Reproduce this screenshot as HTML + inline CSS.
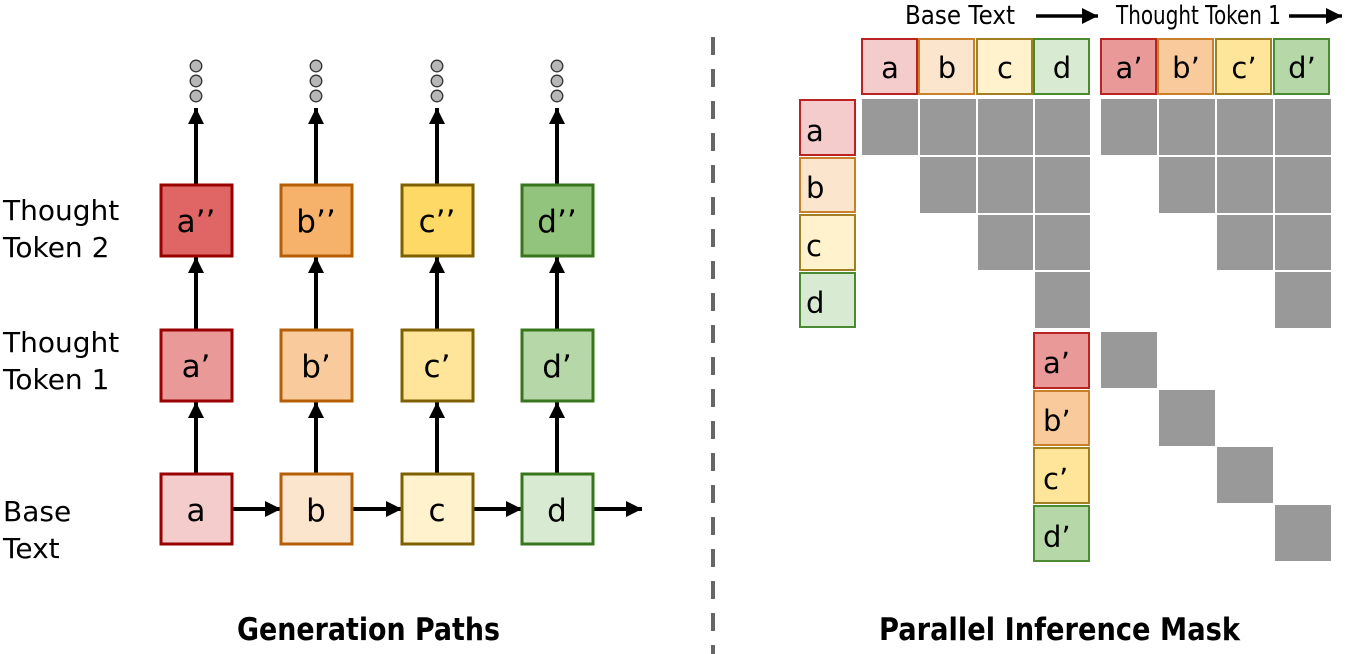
<!DOCTYPE html>
<html><head><meta charset="utf-8"><style>
html,body{margin:0;padding:0;background:#fff;width:1362px;height:654px;overflow:hidden}
svg text{font-family:"DejaVu Sans","Liberation Sans",sans-serif;fill:#000}
</style></head><body>
<svg width="1362" height="654" viewBox="0 0 1362 654" xmlns="http://www.w3.org/2000/svg">
<defs>
<marker id="ah" viewBox="0 0 10 10" refX="10" refY="5" markerWidth="18" markerHeight="16" markerUnits="userSpaceOnUse" orient="auto"><path d="M0,0L10,5L0,10z" fill="#000"/></marker>
</defs>
<line x1="713" y1="37" x2="713" y2="654" stroke="#666" stroke-width="4" stroke-dasharray="18 14"/>

<g font-size="28">
<text x="3" y="220">Thought</text><text x="3" y="257">Token 2</text>
<text x="3" y="352">Thought</text><text x="3" y="389">Token 1</text>
<text x="3" y="521">Base</text><text x="3" y="558">Text</text>
</g>

<g stroke="#000" stroke-width="4" fill="none">
<line x1="196" y1="474" x2="196" y2="402" marker-end="url(#ah)"/>
<line x1="316" y1="474" x2="316" y2="402" marker-end="url(#ah)"/>
<line x1="437" y1="474" x2="437" y2="402" marker-end="url(#ah)"/>
<line x1="557" y1="474" x2="557" y2="402" marker-end="url(#ah)"/>
<line x1="196" y1="329" x2="196" y2="257" marker-end="url(#ah)"/>
<line x1="316" y1="329" x2="316" y2="257" marker-end="url(#ah)"/>
<line x1="437" y1="329" x2="437" y2="257" marker-end="url(#ah)"/>
<line x1="557" y1="329" x2="557" y2="257" marker-end="url(#ah)"/>
<line x1="196" y1="184" x2="196" y2="108" marker-end="url(#ah)"/>
<line x1="316" y1="184" x2="316" y2="108" marker-end="url(#ah)"/>
<line x1="437" y1="184" x2="437" y2="108" marker-end="url(#ah)"/>
<line x1="557" y1="184" x2="557" y2="108" marker-end="url(#ah)"/>
<line x1="232" y1="509" x2="281" y2="509" marker-end="url(#ah)"/>
<line x1="352" y1="509" x2="402" y2="509" marker-end="url(#ah)"/>
<line x1="473" y1="509" x2="522" y2="509" marker-end="url(#ah)"/>
<line x1="593" y1="509" x2="642" y2="509" marker-end="url(#ah)"/>
</g>
<g fill="#b7b7b7" stroke="#333" stroke-width="1.3">
<circle cx="196" cy="66" r="5.8"/><circle cx="196" cy="81" r="5.8"/><circle cx="196" cy="96" r="5.8"/>
<circle cx="316" cy="66" r="5.8"/><circle cx="316" cy="81" r="5.8"/><circle cx="316" cy="96" r="5.8"/>
<circle cx="437" cy="66" r="5.8"/><circle cx="437" cy="81" r="5.8"/><circle cx="437" cy="96" r="5.8"/>
<circle cx="557" cy="66" r="5.8"/><circle cx="557" cy="81" r="5.8"/><circle cx="557" cy="96" r="5.8"/>
</g>

<g stroke-width="3">
<rect x="161" y="185" width="71" height="71" fill="#e06666" stroke="#990000"/>
<rect x="281" y="185" width="71" height="71" fill="#f6b26b" stroke="#b45f06"/>
<rect x="402" y="185" width="71" height="71" fill="#ffd966" stroke="#7f6000"/>
<rect x="522" y="185" width="71" height="71" fill="#93c47d" stroke="#38761d"/>
<rect x="161" y="330" width="71" height="71" fill="#ea9999" stroke="#990000"/>
<rect x="281" y="330" width="71" height="71" fill="#f9cb9c" stroke="#b45f06"/>
<rect x="402" y="330" width="71" height="71" fill="#ffe599" stroke="#7f6000"/>
<rect x="522" y="330" width="71" height="71" fill="#b6d7a8" stroke="#38761d"/>
<rect x="161" y="474" width="71" height="70" fill="#f4cccc" stroke="#990000"/>
<rect x="281" y="474" width="71" height="70" fill="#fce5cd" stroke="#b45f06"/>
<rect x="402" y="474" width="71" height="70" fill="#fff2cc" stroke="#7f6000"/>
<rect x="522" y="474" width="71" height="70" fill="#d9ead3" stroke="#38761d"/>
</g>
<g font-size="31" text-anchor="middle">
<text x="196" y="232">a’’</text><text x="316" y="232">b’’</text><text x="437" y="232">c’’</text><text x="557" y="232">d’’</text>
<text x="196" y="377">a’</text><text x="316" y="377">b’</text><text x="437" y="377">c’</text><text x="557" y="377">d’</text>
<text x="196" y="521">a</text><text x="316" y="521">b</text><text x="437" y="521">c</text><text x="557" y="521">d</text>
</g>

<g font-size="26" style="font-family:'Liberation Sans',sans-serif">
<text x="905" y="24" textLength="110" lengthAdjust="spacingAndGlyphs">Base Text</text>
<text x="1116" y="24" textLength="165" lengthAdjust="spacingAndGlyphs">Thought Token 1</text>
</g>
<g stroke="#000" stroke-width="3.5">
<line x1="1036" y1="16" x2="1098" y2="16" marker-end="url(#ah)"/>
<line x1="1289" y1="16" x2="1342" y2="16" marker-end="url(#ah)"/>
</g>

<g stroke-width="2">
<rect x="862" y="39" width="55" height="55" fill="#f4cccc" stroke="#b22"/>
<rect x="919" y="39" width="55" height="55" fill="#fce5cd" stroke="#c8802a"/>
<rect x="977" y="39" width="55" height="55" fill="#fff2cc" stroke="#a08020"/>
<rect x="1034" y="39" width="55" height="55" fill="#d9ead3" stroke="#4a8a30"/>
<rect x="1101" y="39" width="55" height="55" fill="#ea9999" stroke="#b22"/>
<rect x="1158" y="39" width="55" height="55" fill="#f9cb9c" stroke="#c8802a"/>
<rect x="1216" y="39" width="55" height="55" fill="#ffe599" stroke="#a08020"/>
<rect x="1274" y="39" width="55" height="55" fill="#b6d7a8" stroke="#4a8a30"/>
<rect x="800" y="100" width="55" height="55" fill="#f4cccc" stroke="#b22"/>
<rect x="800" y="158" width="55" height="54" fill="#fce5cd" stroke="#c8802a"/>
<rect x="800" y="215" width="55" height="55" fill="#fff2cc" stroke="#a08020"/>
<rect x="800" y="273" width="55" height="54" fill="#d9ead3" stroke="#4a8a30"/>
<rect x="1034" y="333" width="55" height="55" fill="#ea9999" stroke="#b22"/>
<rect x="1034" y="391" width="55" height="54" fill="#f9cb9c" stroke="#c8802a"/>
<rect x="1034" y="448" width="55" height="55" fill="#ffe599" stroke="#a08020"/>
<rect x="1034" y="506" width="55" height="55" fill="#b6d7a8" stroke="#4a8a30"/>
</g>
<g font-size="29" text-anchor="middle">
<text x="890" y="78">a</text><text x="947" y="78">b</text><text x="1005" y="78">c</text><text x="1062" y="78">d</text>
<text x="1129" y="78">a’</text><text x="1186" y="78">b’</text><text x="1244" y="78">c’</text><text x="1302" y="78">d’</text>
</g>
<g font-size="29">
<text x="806" y="141">a</text><text x="806" y="198">b</text><text x="806" y="256">c</text><text x="806" y="313">d</text>
<text x="1043" y="373">a’</text><text x="1043" y="431">b’</text><text x="1043" y="489">c’</text><text x="1043" y="547">d’</text>
</g>

<g fill="#999">
<rect x="862" y="99" width="56" height="56"/><rect x="920" y="99" width="56" height="56"/><rect x="978" y="99" width="55" height="56"/><rect x="1035" y="99" width="55" height="56"/>
<rect x="1101" y="99" width="56" height="56"/><rect x="1159" y="99" width="56" height="56"/><rect x="1217" y="99" width="56" height="56"/><rect x="1275" y="99" width="56" height="56"/>
<rect x="920" y="157" width="56" height="56"/><rect x="978" y="157" width="55" height="56"/><rect x="1035" y="157" width="55" height="56"/>
<rect x="1159" y="157" width="56" height="56"/><rect x="1217" y="157" width="56" height="56"/><rect x="1275" y="157" width="56" height="56"/>
<rect x="978" y="215" width="55" height="55"/><rect x="1035" y="215" width="55" height="55"/>
<rect x="1217" y="215" width="56" height="55"/><rect x="1275" y="215" width="56" height="55"/>
<rect x="1035" y="272" width="55" height="56"/><rect x="1275" y="272" width="56" height="56"/>
<rect x="1101" y="332" width="56" height="56"/>
<rect x="1159" y="390" width="56" height="56"/>
<rect x="1217" y="447" width="56" height="56"/>
<rect x="1275" y="505" width="56" height="56"/>
</g>

<g font-size="31" font-weight="bold" style="font-family:'Liberation Sans',sans-serif">
<text x="237" y="640" textLength="263" lengthAdjust="spacingAndGlyphs">Generation Paths</text>
<text x="879" y="640" textLength="361" lengthAdjust="spacingAndGlyphs">Parallel Inference Mask</text>
</g>
</svg>
</body></html>
